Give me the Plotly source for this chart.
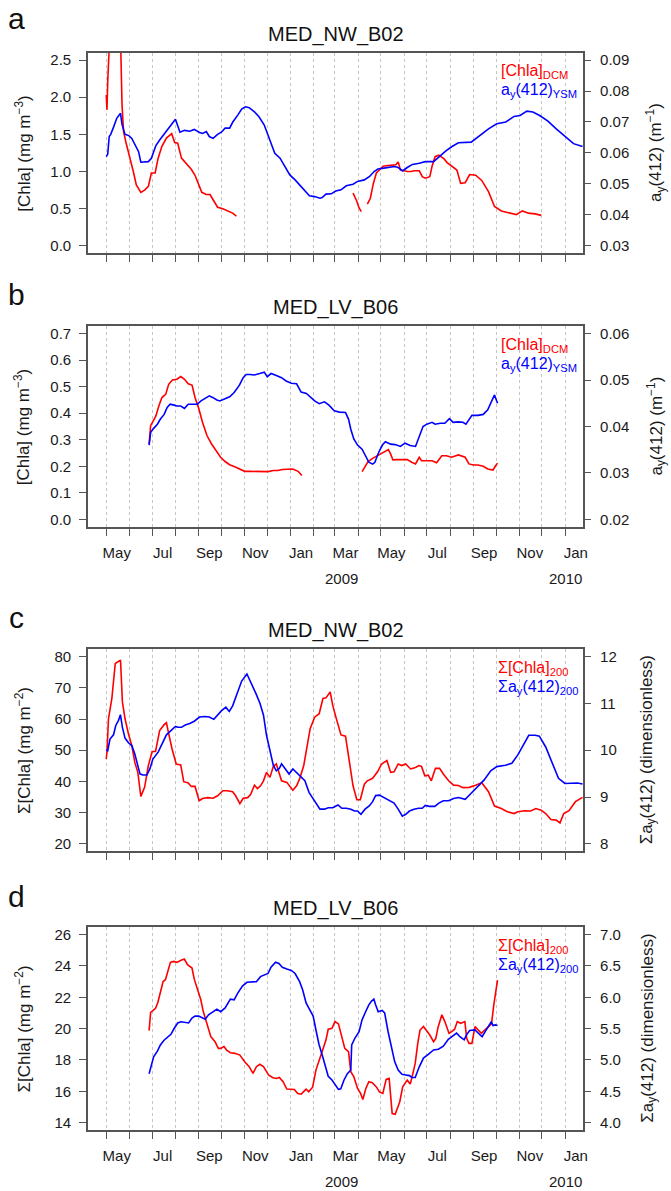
import pandas as pd
import plotly.graph_objects as go

START = pd.Timestamp("2008-05-01")

# ---------------- data (days since 2008-05-01) ----------------
# Panel a : MED_NW_B02, [Chla]DCM (left) and ay(412)YSM (right)
A_CHL_DAYS = [0, 1, 2, 4, 8, 14, 19, 21, 23, 26, 32, 36, 40, 46, 51, 56, 60, 65, 69, 74,
              80, 87, 91, 95, 100, 106, 113, 118, 123, 127, 133, 138, 142, 148, 155, 161, 168, 173,
              250,
              328, 333, 336, 339,
              343,
              347, 351, 355, 359, 364, 368, 374, 380, 385, 388, 391, 396, 400, 405, 409, 416, 420,
              424, 430, 433, 437, 442, 449, 453, 459, 466, 471, 477, 483, 491, 499, 508, 516, 525,
              533, 545, 553, 561, 570, 578]
A_CHL = [2.03, 1.83, 2.21, 2.8, 3.6, 3.6, 2.8, 1.90, 1.54, 1.40, 1.18, 1.00, 0.82, 0.72, 0.75, 0.80,
         0.98, 0.98, 1.18, 1.34, 1.45, 1.51, 1.39, 1.38, 1.18, 1.11, 1.03, 0.95, 0.82, 0.72, 0.69,
         0.69, 0.62, 0.52, 0.50, 0.47, 0.44, 0.40,
         None,
         0.71, 0.60, 0.51, 0.46,
         None,
         0.56, 0.64, 0.84, 0.98, 1.03, 1.07, 1.08, 1.09, 1.09, 1.13, 1.02, 1.01, 1.00, 1.00, 1.01,
         1.01, 0.93, 0.91, 0.93, 1.07, 1.20, 1.22, 1.17, 1.12, 1.07, 1.02, 0.84, 0.85, 0.96, 0.95,
         0.88, 0.73, 0.53, 0.47, 0.45, 0.42, 0.47, 0.44, 0.43, 0.41]
A_AY_DAYS = [0, 2, 4, 6, 10, 14, 19, 21, 25, 30, 34, 38, 43, 46, 51, 56, 60, 66, 71, 76, 80, 84,
             89, 92, 98, 104, 111, 117, 124, 128, 133, 137, 142, 148, 153, 158, 164, 168, 175, 180,
             185, 190, 197, 203, 210, 218, 224, 231, 237, 244, 251, 257, 264, 270, 277, 284, 287,
             292, 299, 305, 312, 319, 328, 334, 343, 350, 356, 361, 369, 376, 383, 388, 394, 400,
             407, 416, 424, 435, 442, 451, 459, 468, 485, 497, 508, 519, 531, 542, 550, 559, 567,
             576, 587, 598, 610, 621, 633]
A_AY = [0.0588, 0.0596, 0.0653, 0.0660, 0.0685, 0.0712, 0.0728, 0.0692, 0.0660, 0.0656, 0.0647,
        0.0626, 0.0604, 0.0570, 0.0570, 0.0572, 0.0583, 0.0624, 0.0642, 0.0658, 0.0674, 0.0685,
        0.0701, 0.0709, 0.0667, 0.0673, 0.0670, 0.0676, 0.0666, 0.0663, 0.0669, 0.0653, 0.0647,
        0.0660, 0.0667, 0.0680, 0.0680, 0.0699, 0.0723, 0.0742, 0.0749, 0.0746, 0.0733, 0.0717,
        0.0690, 0.0637, 0.0599, 0.0583, 0.0556, 0.0529, 0.0513, 0.0497, 0.0475, 0.0462, 0.0459,
        0.0454, 0.0456, 0.0467, 0.0468, 0.0477, 0.0481, 0.0494, 0.0499, 0.0508, 0.0513, 0.0524,
        0.0540, 0.0548, 0.0551, 0.0554, 0.0556, 0.0553, 0.0542, 0.0553, 0.0563, 0.0567, 0.0572,
        0.0572, 0.0588, 0.0606, 0.0620, 0.0633, 0.0635, 0.0657, 0.0678, 0.0694, 0.0700, 0.0718,
        0.0721, 0.0735, 0.0732, 0.0721, 0.0703, 0.0678, 0.0654, 0.0630, 0.0621]

# Panel b : MED_LV_B06, [Chla]DCM and ay(412)YSM
B_CHL_DAYS = [57, 59, 62, 66, 70, 74, 79, 83, 88, 94, 99, 104, 109, 114, 118, 123, 128, 134, 140,
              147, 152, 158, 164, 170, 178, 184, 191, 200, 208, 215, 222, 228, 234, 241, 248, 255,
              260,
              300,
              340, 344, 348, 354, 360, 367, 371, 375, 378, 381, 386, 393, 400, 406, 411, 416, 419,
              426, 433, 439, 446, 452, 459, 468, 477, 482, 488, 494, 501, 507, 512, 514, 517, 520]
B_CHL = [0.284, 0.353, 0.368, 0.390, 0.428, 0.459, 0.471, 0.509, 0.525, 0.528, 0.538, 0.528, 0.511,
         0.506, 0.459, 0.418, 0.365, 0.315, 0.284, 0.253, 0.234, 0.218, 0.206, 0.199, 0.190, 0.181,
         0.181, 0.181, 0.181, 0.180, 0.184, 0.184, 0.188, 0.190, 0.190, 0.181, 0.165,
         None,
         0.180, 0.200, 0.218, 0.230, 0.240, 0.250, 0.259, 0.263, 0.246, 0.224, 0.225, 0.224, 0.225,
         0.215, 0.209, 0.234, 0.221, 0.221, 0.221, 0.213, 0.240, 0.240, 0.234, 0.243, 0.234, 0.209,
         0.205, 0.205, 0.200, 0.190, 0.188, 0.186, 0.200, 0.212]
B_AY_DAYS = [57, 59, 63, 68, 72, 77, 81, 85, 90, 94, 99, 104, 109, 114, 121, 126, 132, 137, 142,
             147, 151, 158, 164, 170, 177, 182, 186, 191, 197, 204, 210, 214, 219, 226, 233, 239,
             246, 253, 259, 266, 271, 277, 283, 290, 296, 303, 310, 318, 322, 325, 329, 334, 340,
             345, 349, 354, 357, 362, 367, 371, 378, 384, 391, 397, 404, 411, 415, 421, 426, 433,
             437, 444, 450, 456, 461, 468, 474, 478, 481, 486, 494, 501, 507, 512, 514, 516, 520]
B_AY = [0.0360, 0.0387, 0.0396, 0.0405, 0.0416, 0.0426, 0.0441, 0.0448, 0.0446, 0.0444, 0.0444,
        0.0439, 0.0448, 0.0448, 0.0448, 0.0455, 0.0462, 0.0466, 0.0462, 0.0457, 0.0455, 0.0460,
        0.0464, 0.0473, 0.0489, 0.0505, 0.0512, 0.0512, 0.0511, 0.0514, 0.0517, 0.0507, 0.0514,
        0.0510, 0.0505, 0.0498, 0.0493, 0.0492, 0.0474, 0.0471, 0.0464, 0.0455, 0.0449, 0.0453,
        0.0446, 0.0434, 0.0431, 0.0430, 0.0416, 0.0394, 0.0373, 0.0360, 0.0351, 0.0337, 0.0323,
        0.0319, 0.0323, 0.0344, 0.0360, 0.0367, 0.0362, 0.0361, 0.0357, 0.0364, 0.0359, 0.0357,
        0.0376, 0.0400, 0.0405, 0.0409, 0.0405, 0.0407, 0.0407, 0.0417, 0.0409, 0.0410, 0.0409,
        0.0405, 0.0412, 0.0424, 0.0424, 0.0426, 0.0436, 0.0453, 0.0460, 0.0468, 0.0450]

# Panel c : MED_NW_B02, Σ[Chla]200 and Σay(412)200
C_CHL_DAYS = [0, 1, 3, 5, 7.5, 12, 16, 19, 21.5, 25, 29.5, 34, 38, 42, 46, 51, 56, 61, 65.5, 71, 77,
              80, 83, 87.5, 93, 99, 103, 109, 113, 118, 123.5, 128, 135, 142, 148, 155, 161, 168,
              172, 177.6, 182, 188, 192, 197, 201, 205, 209, 213, 217.6, 222, 226, 230, 233, 240,
              244, 248, 253, 257, 262.5, 267, 271, 277, 283, 288, 292, 297.6, 301, 305.6, 312, 318,
              323, 328, 333, 337.6, 343, 347, 354, 360.5, 366, 373, 378, 382.5, 388, 392.6, 398,
              404.5, 411, 415.5, 419, 423.4, 428, 432, 437.5, 443, 448, 455, 461.6, 468, 474,
              482.5, 491, 499, 508, 516, 525, 533, 542, 547, 556, 564, 571, 578, 584, 591, 598,
              603, 608, 615, 623.5, 633]
C_CHL = [47.2, 49.4, 60.1, 63.3, 66.6, 77.8, 78.6, 78.9, 65.5, 60.1, 55.3, 51.5, 46.1, 42.9, 35.2,
         38.1, 45.1, 49.6, 49.6, 56.3, 58.2, 58.8, 55.3, 50.4, 45.6, 45.3, 39.9, 39.5, 38.4, 38.4,
         33.8, 34.5, 34.8, 34.6, 35.4, 37.0, 37.0, 36.7, 35.4, 32.9, 34.6, 34.8, 35.9, 38.8, 37.7,
         38.6, 40.2, 42.9, 41.3, 44.8, 45.6, 42.9, 40.2, 39.7, 38.6, 37.2, 38.6, 40.8, 45.1, 51.5,
         56.9, 60.6, 61.7, 66.6, 66.8, 68.7, 64.4, 60.3, 54.9, 54.5, 46.1, 38.6, 34.1, 34.1, 39.1,
         40.2, 41.0, 43.1, 45.6, 46.7, 42.9, 43.1, 45.6, 45.1, 45.6, 44.0, 44.5, 45.1, 44.8, 41.8,
         42.0, 40.2, 44.2, 44.2, 42.4, 40.2, 38.8, 38.7, 38.0, 38.1, 38.8, 39.6, 36.7, 32.1, 31.3,
         30.3, 29.7, 30.3, 30.6, 30.5, 31.3, 30.8, 29.7, 27.8, 27.6, 26.7, 29.7, 30.6, 33.5, 34.9]
C_AY_DAYS = [0, 2, 5, 7.5, 9.7, 12.7, 16.3, 18.9, 21.5, 25, 29.5, 34, 38, 42, 45, 49, 54, 58, 62,
             69, 74, 80, 86, 92, 95, 100, 105, 111, 117, 124, 131, 137, 143, 148, 153, 159, 163.5,
             168, 174.5, 180, 187, 192, 199, 204.4, 209, 213, 217.6, 222, 226, 230, 233, 237, 243,
             248, 254, 259, 264, 269.5, 274, 279, 284, 290, 295, 301, 308, 313, 319, 325, 330, 334,
             338.5, 344, 349.5, 354, 358, 363, 369, 376, 382.5, 388, 393.5, 398, 403, 409, 415,
             420, 424, 429.5, 436.6, 442, 448, 455, 461.6, 468, 477, 485, 494, 502, 511, 519,
             530.5, 539, 547, 556, 561.5, 570, 575.6, 584, 592.6, 601, 609.5, 618, 626, 633]
C_AY = [10.01, 9.99, 10.24, 10.30, 10.33, 10.53, 10.64, 10.76, 10.49, 10.26, 10.16, 10.10, 9.92,
        9.67, 9.49, 9.47, 9.47, 9.60, 9.81, 9.96, 10.14, 10.33, 10.42, 10.51, 10.49, 10.49, 10.54,
        10.57, 10.62, 10.71, 10.72, 10.71, 10.66, 10.75, 10.84, 10.92, 10.83, 10.95, 11.25, 11.48,
        11.63, 11.46, 11.21, 11.00, 10.75, 10.32, 9.96, 9.68, 9.56, 9.61, 9.71, 9.63, 9.49, 9.60,
        9.51, 9.44, 9.35, 9.10, 8.99, 8.88, 8.74, 8.74, 8.77, 8.77, 8.83, 8.76, 8.76, 8.74, 8.70,
        8.70, 8.63, 8.74, 8.81, 8.90, 9.03, 9.04, 8.99, 8.93, 8.87, 8.74, 8.59, 8.63, 8.70, 8.74,
        8.76, 8.76, 8.82, 8.80, 8.80, 8.87, 8.92, 8.92, 8.97, 8.99, 8.95, 9.08, 9.22, 9.36, 9.56,
        9.65, 9.68, 9.72, 9.90, 10.18, 10.32, 10.32, 10.30, 10.07, 9.72, 9.40, 9.29, 9.30, 9.30,
        9.28]

# Panel d : MED_LV_B06, Σ[Chla]200 and Σay(412)200
D_CHL_DAYS = [57, 59, 62, 65.5, 68.6, 72, 75.6, 78.7, 81.8, 85.3, 89.7, 94, 99.4, 103.8, 108, 114,
              117, 121, 125.7, 129, 133.6, 139, 144.6, 149, 152, 156.5, 160, 165, 171, 177.6, 184,
              190, 195, 199.6, 204, 209, 213, 216, 221.6, 226, 230, 235, 240, 244, 250, 254.5, 259,
              262, 265.6, 269, 274.3, 278.7, 283, 288, 292, 295, 300, 304, 308.6, 313, 317, 322,
              325, 329, 334, 338, 341, 345, 349, 353.5, 359, 363, 367.6, 372, 376, 380, 384, 390,
              394, 400, 404, 406, 410.6, 414, 417, 421.6, 426, 430, 435, 438, 441, 446, 450, 455.5,
              459, 463, 466.5, 471, 476.6, 479, 482, 486, 490, 494, 498.6, 503, 507, 512, 515, 517,
              520]
D_CHL = [19.87, 21.03, 21.15, 21.30, 21.67, 22.26, 23.01, 23.12, 23.72, 24.23, 24.29, 24.23, 24.36,
         24.44, 24.08, 23.87, 23.16, 22.48, 21.84, 21.09, 20.34, 19.49, 19.17, 18.74, 18.74, 18.85,
         18.63, 18.46, 18.42, 18.31, 17.89, 17.57, 17.14, 17.57, 17.72, 17.57, 17.25, 17.03, 16.86,
         16.82, 16.88, 16.61, 16.14, 16.11, 16.11, 15.86, 15.81, 15.96, 16.14, 15.96, 16.26, 17.35,
         17.99, 18.63, 19.27, 19.96, 20.02, 20.45, 20.30, 19.49, 18.74, 18.53, 17.25, 16.93, 16.18,
         15.86, 15.47, 16.18, 16.61, 16.54, 16.28, 15.96, 15.86, 16.76, 16.82, 14.58, 14.53, 15.32,
         16.28, 16.71, 16.46, 16.82, 17.78, 19.06, 19.91, 20.13, 19.87, 19.59, 19.17, 19.38, 20.09,
         20.88, 20.45, 19.70, 19.81, 19.96, 20.45, 20.34, 20.45, 19.38, 19.06, 19.06, 20.13, 19.91,
         19.70, 19.91, 20.09, 20.30, 21.50, 22.30, 23.10]
D_AY_DAYS = [57, 60, 63, 68, 72, 76.5, 82, 86, 90.6, 95, 99.4, 104, 109.5, 114, 118, 123, 127,
             131.5, 136, 141.6, 147, 152, 158, 165, 170, 175, 181, 187, 193, 199.6, 205, 210, 215,
             219, 225, 229.5, 234, 240, 246, 251, 257, 261, 265.6, 270, 275, 278.5, 282.7, 287.5,
             292, 295, 300, 304, 308.6, 311.7, 316, 320.5, 325, 326.2, 330.6, 336, 340, 344.7, 349,
             352.6, 355.7, 358, 361.4, 366.7, 370, 374.6, 379, 383.4, 388, 393, 398, 403, 406,
             410.6, 416, 421.6, 428, 435, 441.4, 448, 454.6, 460, 465.6, 470, 475.7, 478.8, 483,
             490, 494, 499.5, 505, 511.8, 514, 517, 520]
D_AY = [4.78, 4.92, 5.05, 5.14, 5.24, 5.31, 5.36, 5.41, 5.51, 5.59, 5.61, 5.60, 5.59, 5.67, 5.70,
        5.70, 5.68, 5.65, 5.72, 5.77, 5.81, 5.77, 5.83, 5.97, 5.96, 6.07, 6.18, 6.24, 6.25, 6.25,
        6.33, 6.36, 6.38, 6.48, 6.56, 6.54, 6.48, 6.45, 6.43, 6.38, 6.25, 6.12, 5.91, 5.81, 5.70,
        5.49, 5.25, 5.06, 4.89, 4.74, 4.68, 4.60, 4.53, 4.54, 4.68, 4.78, 4.84, 5.24, 5.35, 5.45,
        5.64, 5.77, 5.88, 5.94, 5.97, 5.88, 5.77, 5.79, 5.75, 5.45, 5.19, 4.97, 4.84, 4.77, 4.76,
        4.75, 4.72, 4.72, 4.89, 5.03, 5.09, 5.16, 5.17, 5.22, 5.33, 5.38, 5.43, 5.37, 5.32, 5.40,
        5.47, 5.48, 5.43, 5.37, 5.48, 5.61, 5.55, 5.56, 5.55]

# ticks / labels
A_LEFT_TICKS = [0.0, 0.5, 1.0, 1.5, 2.0, 2.5]
A_RIGHT_TICKS = [0.03, 0.04, 0.05, 0.06, 0.07, 0.08, 0.09]
B_LEFT_TICKS = [0.0, 0.1, 0.2, 0.3, 0.4, 0.5, 0.6, 0.7]
B_RIGHT_TICKS = [0.02, 0.03, 0.04, 0.05, 0.06]
C_LEFT_TICKS = [20, 30, 40, 50, 60, 70, 80]
C_RIGHT_TICKS = [8, 9, 10, 11, 12]
D_LEFT_TICKS = [14, 16, 18, 20, 22, 24, 26]
D_RIGHT_TICKS = [4.0, 4.5, 5.0, 5.5, 6.0, 6.5, 7.0]
MONTH_LABELS = ["May", "Jul", "Sep", "Nov", "Jan", "Mar", "May", "Jul", "Sep", "Nov", "Jan"]
MONTH_LABEL_DATES = ["2008-05-15", "2008-07-15", "2008-09-15", "2008-11-15", "2009-01-15",
                     "2009-03-15", "2009-05-15", "2009-07-15", "2009-09-15", "2009-11-15",
                     "2010-01-15"]
YEAR_LABELS = ["2009", "2010"]
YEAR_LABEL_DATES = ["2009-03-10", "2010-01-01"]
TITLES = ["MED_NW_B02", "MED_LV_B06", "MED_NW_B02", "MED_LV_B06"]
LETTERS = ["a", "b", "c", "d"]

# ---------------- styling / layout ----------------
W, H = 671, 1191
FONT = "Arial, Liberation Sans, Helvetica, sans-serif"
RED = "#ff0000"
BLUE = "#0000ff"
BOX = "#555555"
GRID = "#c4c4c4"
TXT = "#1a1a1a"
XL, XR = 88.6, 587.5
BOXES = [(51.7, 252.7), (325.7, 526.7), (649.3, 851.7), (927.7, 1131.0)]
XRANGE = ["2008-04-06 17:00", "2010-01-24 18:00"]
MONTH_STARTS = list(pd.date_range("2008-05-01", "2010-01-01", freq="MS"))


def dates(days):
    return [START + pd.Timedelta(days=d) for d in days]


def pad(ticks):
    lo, hi = min(ticks), max(ticks)
    r = hi - lo
    return [lo - 0.04 * r, hi + 0.04 * r]


def py(pix):
    return 1 - pix / H


def px(pix):
    return pix / W


fig = go.Figure()

panels = [
    (A_CHL_DAYS, A_CHL, A_AY_DAYS, A_AY, A_LEFT_TICKS, A_RIGHT_TICKS, ".1f", ".2f"),
    (B_CHL_DAYS, B_CHL, B_AY_DAYS, B_AY, B_LEFT_TICKS, B_RIGHT_TICKS, ".1f", ".2f"),
    (C_CHL_DAYS, C_CHL, C_AY_DAYS, C_AY, C_LEFT_TICKS, C_RIGHT_TICKS, "d", "d"),
    (D_CHL_DAYS, D_CHL, D_AY_DAYS, D_AY, D_LEFT_TICKS, D_RIGHT_TICKS, "d", ".1f"),
]

layout = dict(width=W, height=H, margin=dict(l=0, r=0, t=0, b=0),
              paper_bgcolor="white", plot_bgcolor="white", showlegend=False,
              font=dict(family=FONT, color=TXT))
annotations = []

for i, (cd, cv, ad, av, lt, rt, lf, rf) in enumerate(panels):
    k = i + 1
    xname = "x" if k == 1 else f"x{k}"
    yl = 2 * i + 1
    yr = 2 * i + 2
    ylname = "y" if yl == 1 else f"y{yl}"
    yrname = f"y{yr}"
    top, bot = BOXES[i]
    ydom = [py(bot), py(top)]
    labelled = i in (1, 3)

    fig.add_trace(go.Scatter(x=dates(cd), y=cv, mode="lines", xaxis=xname, yaxis=ylname,
                             line=dict(color=RED, width=1.6), connectgaps=False))
    fig.add_trace(go.Scatter(x=dates(ad), y=av, mode="lines", xaxis=xname, yaxis=yrname,
                             line=dict(color=BLUE, width=1.6), connectgaps=False))

    layout["xaxis" if k == 1 else f"xaxis{k}"] = dict(
        domain=[px(XL), px(XR)], range=XRANGE, type="date", anchor=ylname,
        showline=True, linecolor=BOX, linewidth=1.5, mirror=True,
        showgrid=False, zeroline=False,
        tickmode="array", tickvals=MONTH_LABEL_DATES, ticktext=MONTH_LABELS,
        ticks="outside", ticklen=11, tickcolor="rgba(0,0,0,0)",
        showticklabels=labelled, tickfont=dict(size=15, color=TXT, family=FONT),
        minor=dict(tickmode="array", tickvals=MONTH_STARTS, ticks="outside", ticklen=7,
                   tickwidth=1.3, tickcolor=BOX, showgrid=True, gridcolor=GRID,
                   griddash="3px,3px", gridwidth=1),
    )
    layout["yaxis" if yl == 1 else f"yaxis{yl}"] = dict(
        domain=ydom, range=pad(lt), anchor=xname,
        tickmode="array", tickvals=lt, ticktext=[format(v, lf) for v in lt],
        ticks="outside", ticklen=7, tickwidth=1.3, tickcolor=BOX, ticklabelstandoff=5,
        showline=True, linecolor=BOX, linewidth=1.5, mirror=True,
        showgrid=False, zeroline=False, tickfont=dict(size=15, color=TXT, family=FONT),
    )
    layout[f"yaxis{yr}"] = dict(
        domain=ydom, range=pad(rt), anchor=xname, overlaying=ylname, side="right",
        tickmode="array", tickvals=rt, ticktext=[format(v, rf) for v in rt],
        ticks="outside", ticklen=7, tickwidth=1.3, tickcolor=BOX, ticklabelstandoff=6,
        showline=False, showgrid=False, zeroline=False,
        tickfont=dict(size=15, color=TXT, family=FONT),
    )

    # panel title and letter
    annotations.append(dict(text=TITLES[i], x=px((XL + XR) / 2), y=py(top - 18.5), xref="paper",
                            yref="paper", showarrow=False, xanchor="center", yanchor="middle",
                            font=dict(size=20, color="#111", family=FONT)))
    letter_y = [18, 294, 618, 897][i]
    annotations.append(dict(text=LETTERS[i], x=px(17), y=py(letter_y), xref="paper",
                            yref="paper", showarrow=False, xanchor="center", yanchor="middle",
                            font=dict(size=30, color="#111", family=FONT)))

    mid = (top + bot) / 2
    if i < 2:
        ltitle = "[Chla] (mg m<sup>−3</sup>)"
        rtitle = "a<sub>y</sub>(412) (m<sup>−1</sup>)"
        leg1 = "[Chla]<sub>DCM</sub>"
        leg2 = "a<sub>y</sub>(412)<sub>YSM</sub>"
        rx = 661
        lgx = 503
    else:
        ltitle = "Σ[Chla] (mg m<sup>−2</sup>)"
        rtitle = "Σa<sub>y</sub>(412) (dimensionless)"
        leg1 = "Σ[Chla]<sub>200</sub>"
        leg2 = "Σa<sub>y</sub>(412)<sub>200</sub>"
        rx = 653
        lgx = 500
    annotations.append(dict(text=ltitle, x=px(23), y=py(mid), xref="paper", yref="paper",
                            showarrow=False, textangle=-90, xanchor="center", yanchor="middle",
                            font=dict(size=17, color=TXT, family=FONT)))
    annotations.append(dict(text=rtitle, x=px(rx), y=py(mid), xref="paper", yref="paper",
                            showarrow=False, textangle=-90, xanchor="center", yanchor="middle",
                            font=dict(size=17, color=TXT, family=FONT)))
    annotations.append(dict(text=leg1, x=px(lgx), y=py(top + 19), xref="paper", yref="paper",
                            showarrow=False, xanchor="left", yanchor="middle",
                            font=dict(size=16, color=RED, family=FONT)))
    annotations.append(dict(text=leg2, x=px(lgx), y=py(top + 38), xref="paper", yref="paper",
                            showarrow=False, xanchor="left", yanchor="middle",
                            font=dict(size=16, color=BLUE, family=FONT)))

    if labelled:
        for lab, d in zip(YEAR_LABELS, YEAR_LABEL_DATES):
            annotations.append(dict(text=lab, x=d, y=py(bot + 51.5), xref=xname, yref="paper",
                                    showarrow=False, xanchor="center", yanchor="middle",
                                    font=dict(size=15, color=TXT, family=FONT)))

layout["annotations"] = annotations
fig.update_layout(**layout)
fig.write_html("out.html")
